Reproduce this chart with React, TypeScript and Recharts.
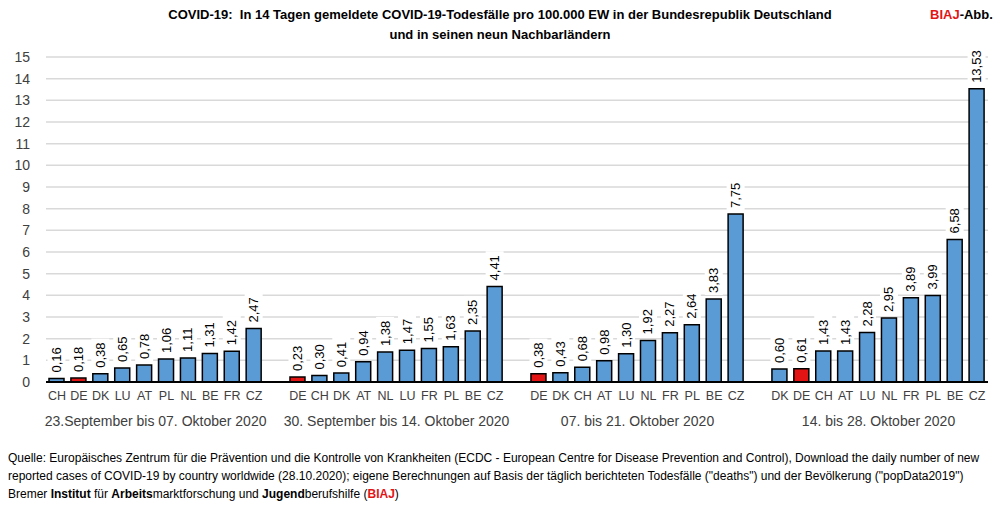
import { BarChart, Bar, XAxis, YAxis, CartesianGrid, Cell, LabelList } from "recharts";

const periods = [
  "23.September bis 07. Oktober 2020",
  "30. September bis 14. Oktober 2020",
  "07. bis 21. Oktober 2020",
  "14. bis 28. Oktober 2020",
];

const countries1 = ["CH", "DE", "DK", "LU", "AT", "PL", "NL", "BE", "FR", "CZ"];
const values1 = [0.16, 0.18, 0.38, 0.65, 0.78, 1.06, 1.11, 1.31, 1.42, 2.47];

const countries2 = ["DE", "CH", "DK", "AT", "NL", "LU", "FR", "PL", "BE", "CZ"];
const values2 = [0.23, 0.3, 0.41, 0.94, 1.38, 1.47, 1.55, 1.63, 2.35, 4.41];

const countries3 = ["DE", "DK", "CH", "AT", "LU", "NL", "FR", "PL", "BE", "CZ"];
const values3 = [0.38, 0.43, 0.68, 0.98, 1.3, 1.92, 2.27, 2.64, 3.83, 7.75];

const countries4 = ["DK", "DE", "CH", "AT", "LU", "NL", "FR", "PL", "BE", "CZ"];
const values4 = [0.6, 0.61, 1.43, 1.43, 2.28, 2.95, 3.89, 3.99, 6.58, 13.53];

const yTicks = [0, 1, 2, 3, 4, 5, 6, 7, 8, 9, 10, 11, 12, 13, 14, 15];

const groups = [
  { countries: countries1, values: values1 },
  { countries: countries2, values: values2 },
  { countries: countries3, values: values3 },
  { countries: countries4, values: values4 },
];

// flat rows, one empty slot between the periods
const rows: any[] = [];
groups.forEach((g, gi) => {
  if (gi > 0) rows.push({ key: `gap${gi}`, country: "", value: null, period: "" });
  g.countries.forEach((c, i) => {
    rows.push({
      key: `${gi}-${c}`,
      country: c,
      value: g.values[i],
      period: i === 4 ? periods[gi] : "",
    });
  });
});

const FONT = "'Liberation Sans', sans-serif";
const BLUE = "#5b9bd5";
const RED = "#e31414";
const HALF_SLOT = 11;

const fmt = (v: number) => v.toFixed(2).replace(".", ",");

const ValueLabel = (props: any) => {
  const { x, y, width, value } = props;
  if (value == null) return null;
  const cx = x + width / 2;
  const ty = y - 6;
  const txt = fmt(value);
  const len = txt.length * 6.8;
  return (
    <g>
      <rect x={cx - 9} y={ty - len - 2} width={18} height={len + 4} fill="#fff" />
      <text
        x={cx}
        y={ty}
        transform={`rotate(-90 ${cx} ${ty})`}
        textAnchor="start"
        dominantBaseline="central"
        fontSize={13}
        fontFamily={FONT}
        fill="#000"
      >
        {txt}
      </text>
    </g>
  );
};

const CountryTick = (props: any) => {
  const { x, y, index } = props;
  const row = rows[index];
  if (!row || !row.country) return null;
  return (
    <text x={x} y={y + 10} textAnchor="middle" fontSize={12.5} fontFamily={FONT} fill="#404040">
      {row.country}
    </text>
  );
};

const PeriodTick = (props: any) => {
  const { x, y, index } = props;
  const row = rows[index];
  if (!row || !row.period) return null;
  return (
    <text x={x + HALF_SLOT} y={y + 8} textAnchor="middle" fontSize={14} fontFamily={FONT} fill="#404040">
      {row.period}
    </text>
  );
};

export default function App() {
  return (
    <div
      style={{
        position: "absolute",
        left: 0,
        top: 0,
        width: 1000,
        height: 508,
        background: "#fff",
        overflow: "hidden",
        fontFamily: FONT,
      }}
    >
      <div style={{ position: "absolute", top: 5, left: 0, width: 1000, textAlign: "center", fontWeight: "bold", fontSize: 13, lineHeight: "20px", color: "#000" }}>
        <div>COVID-19:&nbsp; In 14 Tagen gemeldete COVID-19-Todesfälle pro 100.000 EW in der Bundesrepublik Deutschland</div>
        <div>und in seinen neun Nachbarländern</div>
      </div>
      <div style={{ position: "absolute", top: 5, left: 930, fontWeight: "bold", fontSize: 13, lineHeight: "20px" }}>
        <span style={{ color: RED }}>BIAJ</span>-Abb.
      </div>

      <div style={{ position: "absolute", top: 0, left: 0 }}>
        <BarChart
          width={1000}
          height={440}
          data={rows}
          margin={{ top: 57, right: 12, bottom: 8, left: 0 }}
          barSize={15}
        >
          <CartesianGrid vertical={false} stroke="#d9d9d9" strokeWidth={1.5} />
          <YAxis
            domain={[0, 15]}
            ticks={yTicks}
            interval={0}
            width={46}
            axisLine={false}
            tickLine={false}
            tickMargin={10}
            tick={{ fontSize: 14, fill: "#404040", fontFamily: FONT }}
          />
          <XAxis
            dataKey="key"
            height={28}
            interval={0}
            axisLine={{ stroke: "#000", strokeWidth: 2 }}
            tickLine={false}
            tick={<CountryTick />}
          />
          <XAxis
            xAxisId="p"
            dataKey="key"
            height={22}
            interval={0}
            axisLine={false}
            tickLine={false}
            tick={<PeriodTick />}
          />
          <Bar dataKey="value" stroke="#000" strokeWidth={1.5} isAnimationActive={false}>
            {rows.map((r) => (
              <Cell key={r.key} fill={r.country === "DE" ? RED : BLUE} />
            ))}
            <LabelList dataKey="value" content={<ValueLabel />} />
          </Bar>
        </BarChart>
      </div>

      <div style={{ position: "absolute", top: 449, left: 8, fontSize: 12, lineHeight: "18px", color: "#000", whiteSpace: "nowrap" }}>
        <div>
          Quelle: Europäisches Zentrum für die Prävention und die Kontrolle von Krankheiten (ECDC - European Centre for Disease Prevention and Control), Download the daily number of new
        </div>
        <div>
          reported cases of COVID-19 by country worldwide (28.10.2020); eigene Berechnungen auf Basis der täglich berichteten Todesfälle ("deaths") und der Bevölkerung ("popData2019")
        </div>
        <div>
          Bremer <b>Institut</b> für <b>Arbeits</b>marktforschung und <b>Jugend</b>berufshilfe (<b style={{ color: RED }}>BIAJ</b>)
        </div>
      </div>
    </div>
  );
}
